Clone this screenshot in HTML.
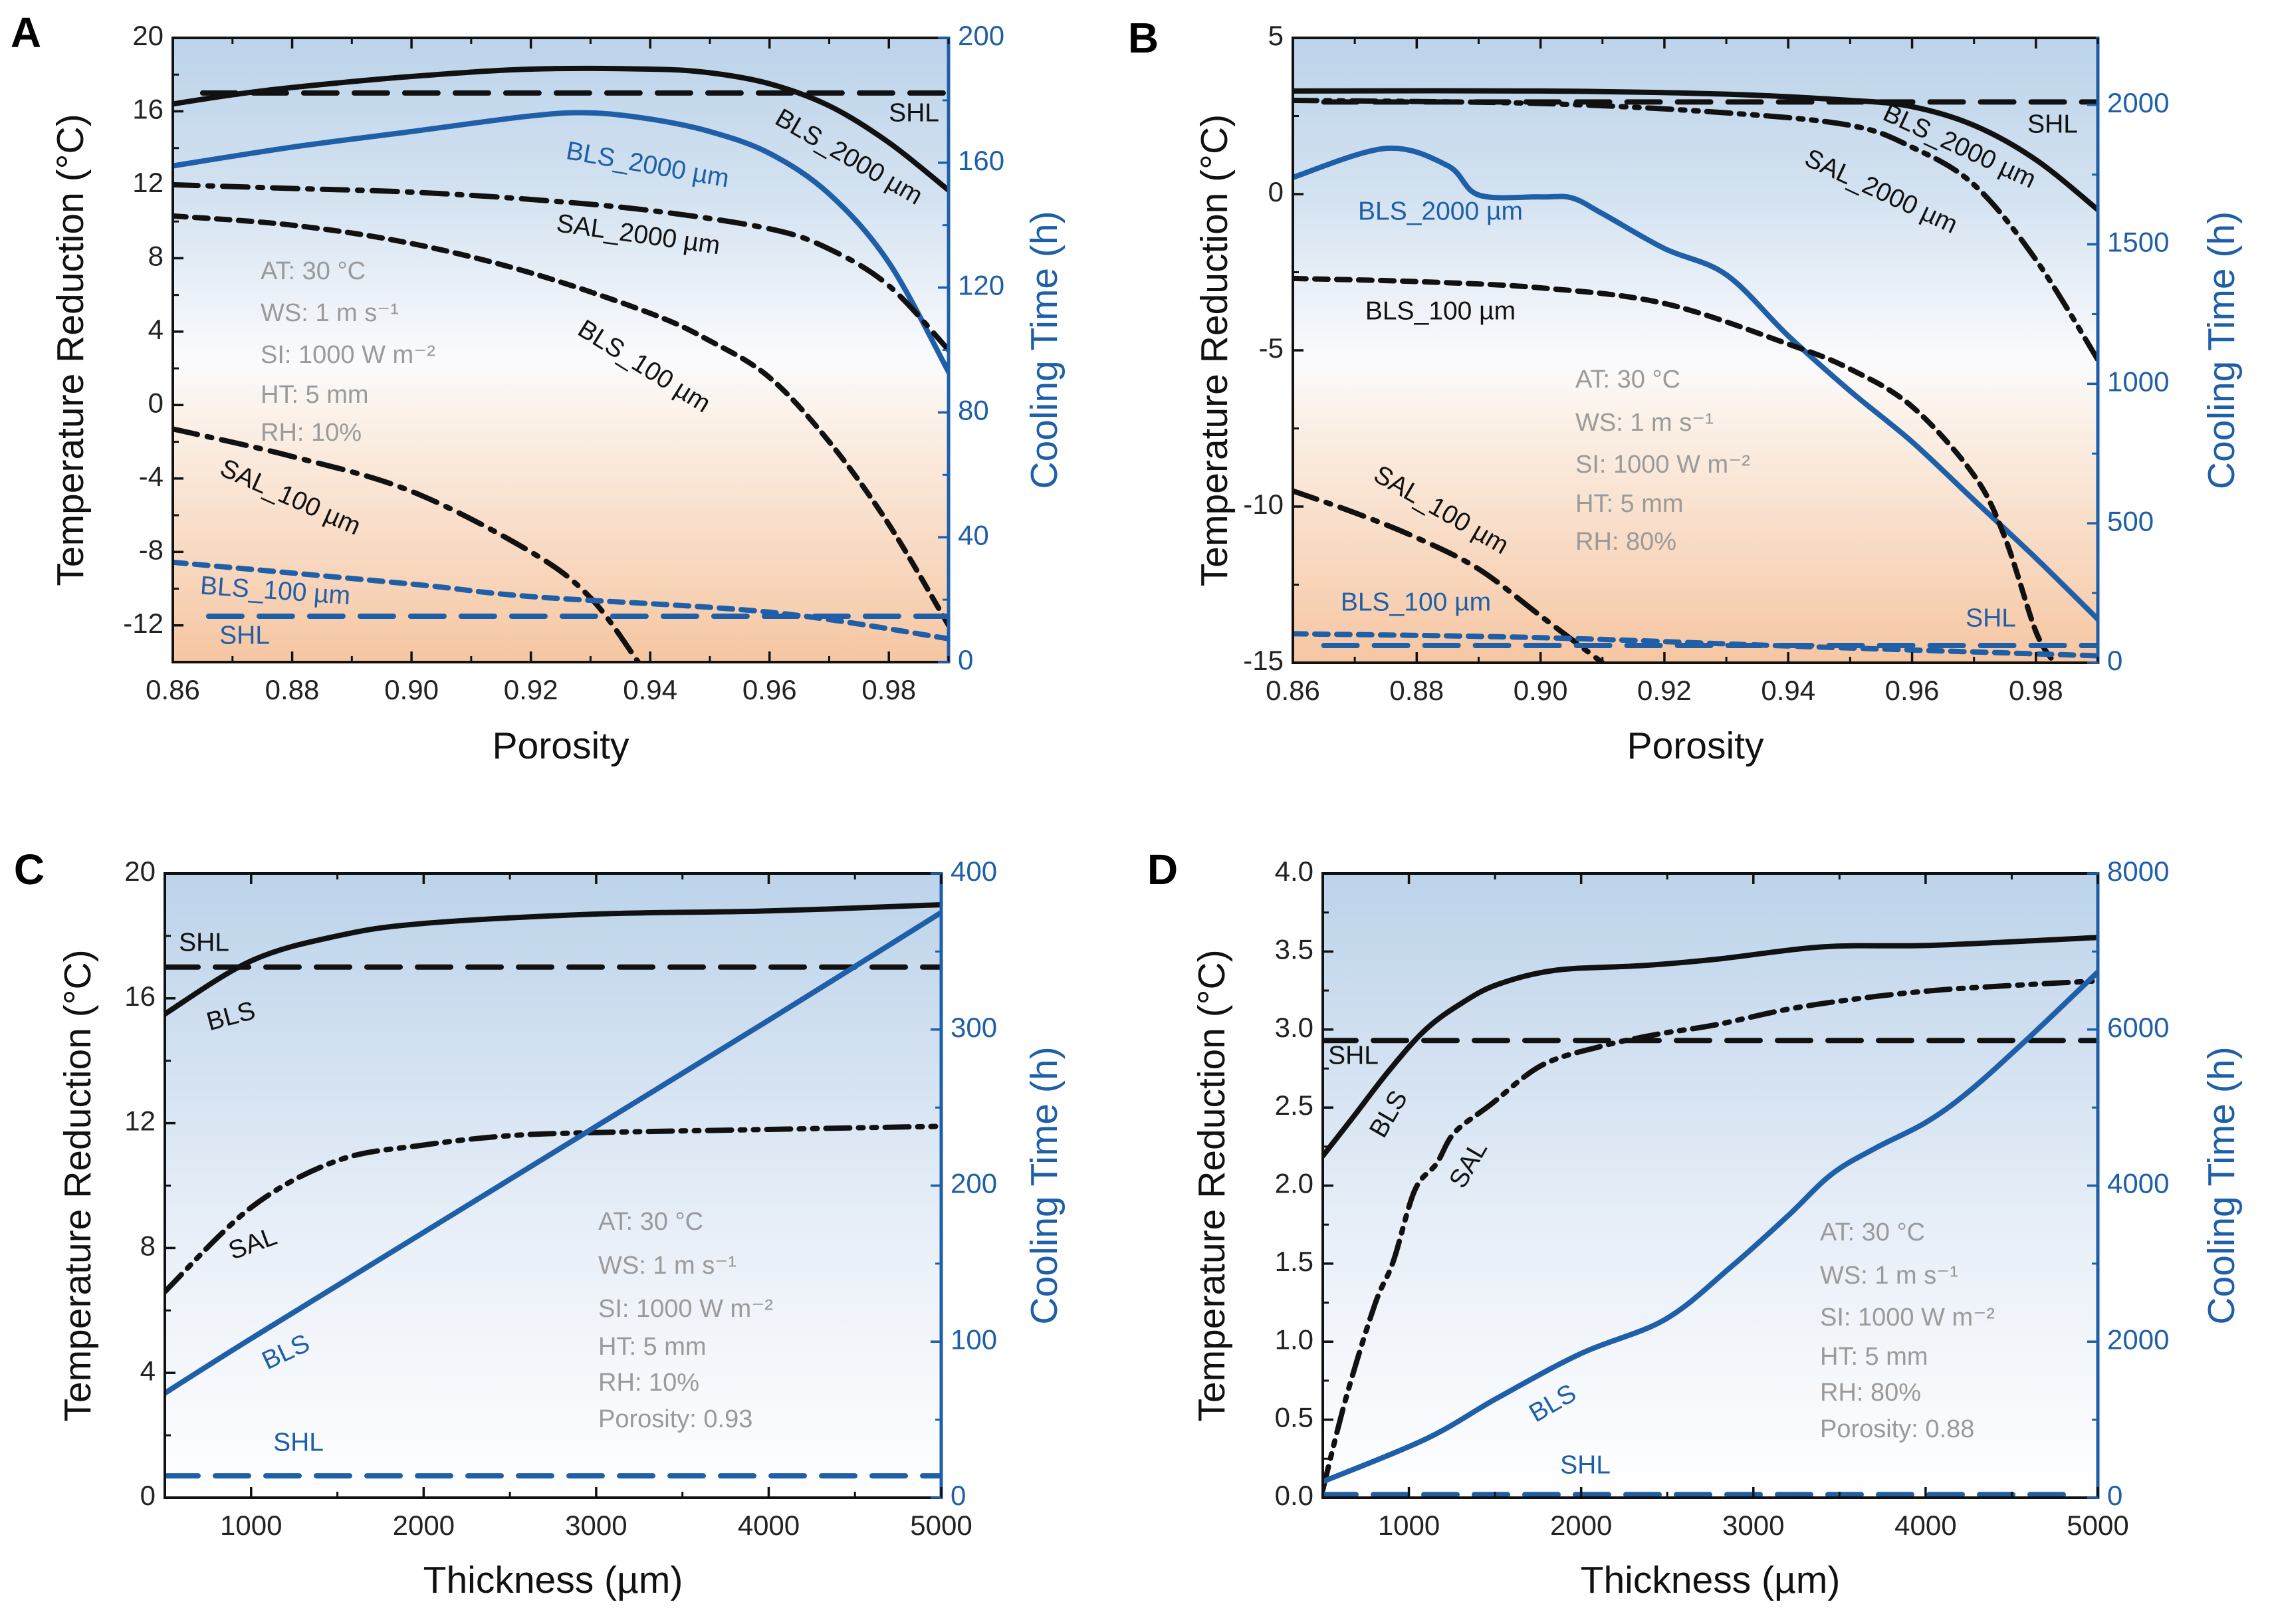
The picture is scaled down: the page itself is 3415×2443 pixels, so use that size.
<!DOCTYPE html>
<html><head><meta charset="utf-8">
<style>
html,body{margin:0;padding:0;background:#fff;}
svg{display:block;font-family:"Liberation Sans",Arial,sans-serif;}
</style></head>
<body>
<svg id="fig" width="3415" height="2443" viewBox="0 0 3415 2443" xmlns="http://www.w3.org/2000/svg">
<defs>
<linearGradient id="gAB" x1="0" y1="0" x2="0" y2="1">
<stop offset="0" stop-color="#bcd3ea"/><stop offset="0.25" stop-color="#d3e2f0"/><stop offset="0.52" stop-color="#fbfbfd"/><stop offset="0.6" stop-color="#fbf2ea"/><stop offset="1" stop-color="#f6c6a2"/>
</linearGradient>
<linearGradient id="gCD" x1="0" y1="0" x2="0" y2="1">
<stop offset="0" stop-color="#bcd3ea"/><stop offset="0.6" stop-color="#eaf0f8"/><stop offset="1" stop-color="#ffffff"/>
</linearGradient>
</defs>
</svg>
<script>
// ===== Panel A data (Porosity) =====
const aX_bls2000=[0.86,0.87,0.88,0.90,0.92,0.94,0.95,0.96,0.97,0.98,0.99];
const aY_bls2000=[16.4,16.9,17.3,17.9,18.3,18.3,18.1,17.5,16.3,14.3,11.7];
const aX_shl=[0.865,0.99]; const aY_shl=[17,17];
const aX_bls2000t=[0.86,0.88,0.90,0.92,0.93,0.94,0.95,0.96,0.97,0.98,0.99];
const aY_bls2000t=[159,165,170,175,176,174,170,163,150,128,93];
const aX_sal2000=[0.86,0.88,0.90,0.92,0.94,0.96,0.97,0.98,0.99];
const aY_sal2000=[12,11.8,11.6,11.2,10.6,9.6,8.5,6.5,3];
const aX_bls100=[0.86,0.88,0.90,0.92,0.94,0.95,0.96,0.97,0.98,0.99];
const aY_bls100=[10.3,9.8,8.8,7.2,5,3.5,1.5,-2,-6.5,-12];
const aX_sal100=[0.86,0.88,0.90,0.92,0.93,0.938];
const aY_sal100=[-1.3,-2.8,-4.7,-8,-10.5,-14];
const aX_bls100t=[0.86,0.90,0.92,0.96,0.99];
const aY_bls100t=[32,25,21,16,7.5];
const aX_shlt=[0.866,0.99]; const aY_shlt=[14.7,14.7];
// ===== Panel B data =====
const bX_bls2000=[0.86,0.90,0.93,0.95,0.96,0.97,0.98,0.99];
const bY_bls2000=[3.3,3.3,3.2,3.0,2.8,2.2,1.1,-0.5];
const bX_shl=[0.865,0.99]; const bY_shl=[2.95,2.95];
const bX_sal2000=[0.86,0.90,0.93,0.95,0.96,0.97,0.98,0.99];
const bY_sal2000=[3.0,2.9,2.6,2.2,1.5,0.3,-2.1,-5.3];
const bX_bls2000t=[0.86,0.875,0.885,0.89,0.90,0.905,0.91,0.92,0.93,0.94,0.95,0.96,0.97,0.98,0.99];
const bY_bls2000t=[1740,1844,1782,1677,1670,1667,1610,1485,1391,1172,974,792,583,375,156];
const bX_bls100=[0.86,0.88,0.90,0.92,0.94,0.95,0.96,0.97,0.975,0.98,0.983];
const bY_bls100=[-2.7,-2.8,-3.0,-3.5,-4.8,-5.6,-6.8,-9,-11,-14,-15];
const bX_sal100=[0.86,0.87,0.88,0.89,0.90,0.91];
const bY_sal100=[-9.5,-10.2,-11,-12,-13.5,-15];
const bX_bls100t=[0.86,0.90,0.94,0.99]; const bY_bls100t=[104,90,60,25];
const bX_shlt=[0.865,0.99]; const bY_shlt=[62,62];
// ===== Panel C data (Thickness) =====
const cX_bls=[500,1000,1500,2000,3000,4000,5000]; const cY_bls=[15.5,17.2,18,18.4,18.7,18.8,19];
const cX_shl=[500,5000]; const cY_shl=[17,17];
const cX_sal=[500,1000,1500,2000,2500,3000,4000,5000]; const cY_sal=[6.6,9.3,10.8,11.3,11.6,11.7,11.8,11.9];
const cX_blst=[500,1000,2000,3000,4000,5000]; const cY_blst=[67,102,170,238,306,375];
const cX_shlt=[500,5000]; const cY_shlt=[14,14];
// ===== Panel D data =====
const dX_bls=[500,677,887,1097,1308,1518,1854,2359,2780,3410,4042,5000];
const dY_bls=[2.19,2.44,2.74,3.0,3.17,3.29,3.38,3.41,3.45,3.53,3.54,3.59];
const dX_shl=[500,5000]; const dY_shl=[2.93,2.93];
const dX_sal=[500,635,803,908,1034,1160,1265,1476,1770,2107,2443,2780,3200,3621,4042,4462,4967];
const dY_sal=[0.05,0.64,1.24,1.51,1.97,2.14,2.34,2.52,2.77,2.89,2.97,3.03,3.13,3.2,3.25,3.28,3.31];
const dX_blst=[500,1097,1518,2000,2485,2864,3200,3453,3705,4000,4252,4588,5000];
const dY_blst=[206,751,1283,1849,2281,2946,3611,4143,4476,4808,5207,5872,6737];
const dX_shlt=[500,4800]; const dY_shlt=[40,40];
// ticks
const aXTicks=[0.86,0.88,0.90,0.92,0.94,0.96,0.98];
const aLTicks=[-12,-8,-4,0,4,8,12,16,20];
const aRTicks=[0,40,80,120,160,200];
const bLTicks=[-15,-10,-5,0,5];
const bRTicks=[0,500,1000,1500,2000];
const cXTicks=[1000,2000,3000,4000,5000];
const cLTicks=[0,4,8,12,16,20];
const cRTicks=[0,100,200,300,400];
const dLTicks=[0,0.5,1.0,1.5,2.0,2.5,3.0,3.5,4.0];
const dRTicks=[0,2000,4000,6000,8000];

const NS="http://www.w3.org/2000/svg";
const svg=document.getElementById('fig');
const BLUE="#1f5fa8", BLK="#111", GRAY="#9a9a9a";
function el(tag,attrs,parent){const e=document.createElementNS(NS,tag);for(const k in attrs)e.setAttribute(k,attrs[k]);(parent||svg).appendChild(e);return e;}
function txt(s,x,y,size,fill,anchor,rot,parent,name,weight){
  const t=el('text',{x:x,y:y,'font-size':size,fill:fill,'text-anchor':anchor||'middle','dominant-baseline':'middle'},parent);
  if(weight)t.setAttribute('font-weight',weight);
  if(rot)t.setAttribute('transform','rotate('+rot+' '+x+' '+y+')');
  t.textContent=s;
  
  
  return t;}
function smoothPath(pts){
  if(pts.length<3)return 'M'+pts.map(p=>p[0].toFixed(1)+','+p[1].toFixed(1)).join(' L');
  let d='M'+pts[0][0].toFixed(1)+','+pts[0][1].toFixed(1);
  for(let i=0;i<pts.length-1;i++){
    const p0=pts[i-1]||pts[i],p1=pts[i],p2=pts[i+1],p3=pts[i+2]||p2;
    const c1=[p1[0]+(p2[0]-p0[0])/6,p1[1]+(p2[1]-p0[1])/6];
    const c2=[p2[0]-(p3[0]-p1[0])/6,p2[1]-(p3[1]-p1[1])/6];
    d+=' C'+c1[0].toFixed(1)+','+c1[1].toFixed(1)+' '+c2[0].toFixed(1)+','+c2[1].toFixed(1)+' '+p2[0].toFixed(1)+','+p2[1].toFixed(1);}
  return d;}
const DASH={solid:null,long:'50,26',short:'20,13',dd:'38,15,7,15',ddd:'36,13,7,13,7,13'};

function panel(cfg){
  const g=el('g',{});
  
  
  const {L,R,T,B}=cfg;
  const sx=v=>L+(v-cfg.xmin)/(cfg.xmax-cfg.xmin)*(R-L);
  const syl=v=>B-(v-cfg.lmin)/(cfg.lmax-cfg.lmin)*(B-T);
  const syr=v=>B-(v-cfg.rmin)/(cfg.rmax-cfg.rmin)*(B-T);
  const bg=el('rect',{x:L,y:T,width:R-L,height:B-T,fill:cfg.grad},g);
  
  
  const clip=el('clipPath',{id:'clip'+cfg.id},g);
  el('rect',{x:L,y:T,width:R-L,height:B-T},clip);
  const lg=el('g',{'clip-path':'url(#clip'+cfg.id+')'},g);
  cfg.series.forEach(s=>{
    const sy=s.axis==='r'?syr:syl;
    const pts=s.x.map((xv,i)=>[sx(xv),sy(s.y[i])]);
    const p=el('path',{d:smoothPath(pts),fill:'none',stroke:s.color,'stroke-width':8,'stroke-linecap':s.dash?'round':'butt','stroke-linejoin':'round'},lg);
    if(DASH[s.dash])p.setAttribute('stroke-dasharray',DASH[s.dash]);
    
    
  });
  const fl=el('path',{d:`M${R},${B} L${L},${B} L${L},${T} L${R},${T}`,fill:'none',stroke:BLK,'stroke-width':4},g);
  
  
  const fr=el('line',{x1:R,y1:T-2,x2:R,y2:B+2,stroke:BLUE,'stroke-width':5},g);
  
  
  cfg.xTicks.forEach(v=>{const x=sx(v);
    el('line',{x1:x,y1:B,x2:x,y2:B-16,stroke:BLK,'stroke-width':3.5},g);
    el('line',{x1:x,y1:T,x2:x,y2:T+16,stroke:BLK,'stroke-width':3.5},g);
    txt(cfg.xFmt(v),x,B+45,42,'#222','middle',0,g,'x-tick-label');});
  cfg.xMinor.forEach(v=>{const x=sx(v);
    el('line',{x1:x,y1:B,x2:x,y2:B-9,stroke:BLK,'stroke-width':3},g);
    el('line',{x1:x,y1:T,x2:x,y2:T+9,stroke:BLK,'stroke-width':3},g);});
  cfg.lTicks.forEach(v=>{const y=syl(v);
    el('line',{x1:L,y1:y,x2:L+16,y2:y,stroke:BLK,'stroke-width':3.5},g);
    txt(cfg.lFmt(v),L-14,y,42,'#222','end',0,g,'left-tick-label');});
  cfg.lMinor.forEach(v=>{const y=syl(v);el('line',{x1:L,y1:y,x2:L+9,y2:y,stroke:BLK,'stroke-width':3},g);});
  cfg.rTicks.forEach(v=>{const y=syr(v);
    el('line',{x1:R,y1:y,x2:R-16,y2:y,stroke:BLUE,'stroke-width':3.5},g);
    txt(String(v),R+14,y,42,BLUE,'start',0,g,'right-tick-label');});
  cfg.rMinor.forEach(v=>{const y=syr(v);el('line',{x1:R,y1:y,x2:R-9,y2:y,stroke:BLUE,'stroke-width':3},g);});
  const mid=(T+B)/2;
  txt('Temperature Reduction (°C)',cfg.ltx,mid,57,'#111','middle',-90,g,'left-axis-title');
  txt('Cooling Time (h)',cfg.rtx,mid,57,BLUE,'middle',-90,g,'right-axis-title');
  txt(cfg.xTitle,(L+R)/2,cfg.xty,57,'#111','middle',0,g,'x-axis-title');
  txt(cfg.letter,cfg.lx,cfg.ly,64,'#000','middle',0,g,'panel-letter','bold');
  cfg.labels.forEach(l=>txt(l[0],l[1],l[2],39,l[3],'middle',l[4],g,'series-label'));
  cfg.cond.forEach((c,i)=>{txt(c,cfg.cx,cfg.cy[i],38,GRAY,'start',0,g,'condition-text');});
}
const f2=v=>v.toFixed(2);
const rng=(a,b,s)=>{const r=[];for(let v=a;v<=b+1e-9;v+=s)r.push(+v.toFixed(4));return r;};
const condAB=(rh)=>['AT: 30 °C','WS: 1 m s⁻¹','SI: 1000 W m⁻²','HT: 5 mm','RH: '+rh];

panel({id:'A',name:'panel-a',L:260,R:1427,T:57,B:996,xmin:0.86,xmax:0.99,lmin:-14,lmax:20,rmin:0,rmax:200,grad:'url(#gAB)',
 xTicks:aXTicks,xMinor:rng(0.87,0.99,0.02),xFmt:f2,lTicks:aLTicks,lMinor:rng(-14,18,4),lFmt:v=>String(v),rTicks:aRTicks,rMinor:rng(20,180,40),
 ltx:110,rtx:1575,xTitle:'Porosity',xty:1126,letter:'A',lx:39,ly:54,
 series:[
  {name:'bls-2000-temp',x:aX_bls2000,y:aY_bls2000,color:BLK,dash:'solid'},
  {name:'shl-temp',x:aX_shl,y:aY_shl,color:BLK,dash:'long'},
  {name:'bls-2000-time',x:aX_bls2000t,y:aY_bls2000t,color:BLUE,dash:'solid',axis:'r'},
  {name:'sal-2000-temp',x:aX_sal2000,y:aY_sal2000,color:BLK,dash:'dd'},
  {name:'bls-100-temp',x:aX_bls100,y:aY_bls100,color:BLK,dash:'short'},
  {name:'sal-100-temp',x:aX_sal100,y:aY_sal100,color:BLK,dash:'dd'},
  {name:'bls-100-time',x:aX_bls100t,y:aY_bls100t,color:BLUE,dash:'short',axis:'r'},
  {name:'shl-time',x:aX_shlt,y:aY_shlt,color:BLUE,dash:'long',axis:'r'}],
 labels:[['SHL',1375,172,BLK,0],['BLS_2000 µm',1276,238,BLK,30],['BLS_2000 µm',974,250,BLUE,10],['SAL_2000 µm',960,355,BLK,8],
  ['BLS_100 µm',968,553,BLK,32],['SAL_100 µm',436,750,BLK,24],['BLS_100 µm',414,891,BLUE,4],['SHL',368,958,BLUE,0]],
 cond:condAB('10%'),cx:392,cy:[410,473,536,596,653]});

panel({id:'B',name:'panel-b',L:1945,R:3156,T:57,B:997,xmin:0.86,xmax:0.99,lmin:-15,lmax:5,rmin:0,rmax:2240,grad:'url(#gAB)',
 xTicks:aXTicks,xMinor:rng(0.87,0.99,0.02),xFmt:f2,lTicks:bLTicks,lMinor:rng(-12.5,2.5,5),lFmt:v=>String(v),rTicks:bRTicks,rMinor:rng(250,2000,500),
 ltx:1831,rtx:3346,xTitle:'Porosity',xty:1126,letter:'B',lx:1720,ly:62,
 series:[
  {name:'bls-2000-temp',x:bX_bls2000,y:bY_bls2000,color:BLK,dash:'solid'},
  {name:'shl-temp',x:bX_shl,y:bY_shl,color:BLK,dash:'long'},
  {name:'sal-2000-temp',x:bX_sal2000,y:bY_sal2000,color:BLK,dash:'ddd'},
  {name:'bls-2000-time',x:bX_bls2000t,y:bY_bls2000t,color:BLUE,dash:'solid',axis:'r'},
  {name:'bls-100-temp',x:bX_bls100,y:bY_bls100,color:BLK,dash:'short'},
  {name:'sal-100-temp',x:bX_sal100,y:bY_sal100,color:BLK,dash:'dd'},
  {name:'bls-100-time',x:bX_bls100t,y:bY_bls100t,color:BLUE,dash:'short',axis:'r'},
  {name:'shl-time',x:bX_shlt,y:bY_shlt,color:BLUE,dash:'long',axis:'r'}],
 labels:[['SHL',3088,189,BLK,0],['BLS_2000 µm',2947,222,BLK,25],['SAL_2000 µm',2829,290,BLK,25],['BLS_2000 µm',2167,320,BLUE,0],
  ['BLS_100 µm',2167,470,BLK,0],['SAL_100 µm',2167,769,BLK,30],['BLS_100 µm',2130,908,BLUE,0],['SHL',2995,932,BLUE,0]],
 cond:condAB('80%'),cx:2370,cy:[573,638,701,760,817]});

panel({id:'C',name:'panel-c',L:248,R:1416,T:1314,B:2253,xmin:500,xmax:5000,lmin:0,lmax:20,rmin:0,rmax:400,grad:'url(#gCD)',
 xTicks:cXTicks,xMinor:rng(1500,4500,1000),xFmt:v=>String(v),lTicks:cLTicks,lMinor:rng(2,18,4),lFmt:v=>String(v),rTicks:cRTicks,rMinor:rng(50,350,100),
 ltx:121,rtx:1575,xTitle:'Thickness (µm)',xty:2381,letter:'C',lx:44,ly:1313,
 series:[
  {name:'bls-temp',x:cX_bls,y:cY_bls,color:BLK,dash:'solid'},
  {name:'shl-temp',x:cX_shl,y:cY_shl,color:BLK,dash:'long'},
  {name:'sal-temp',x:cX_sal,y:cY_sal,color:BLK,dash:'ddd'},
  {name:'bls-time',x:cX_blst,y:cY_blst,color:BLUE,dash:'solid',axis:'r'},
  {name:'shl-time',x:cX_shlt,y:cY_shlt,color:BLUE,dash:'long',axis:'r'}],
 labels:[['SHL',307,1420,BLK,0],['BLS',348,1531,BLK,-15],['SAL',381,1873,BLK,-20],['BLS',431,2036,BLUE,-25],['SHL',449,2172,BLUE,0]],
 cond:condAB('10%').concat(['Porosity: 0.93']),cx:900,cy:[1840,1906,1971,2028,2082,2137]});

panel({id:'D',name:'panel-d',L:1990,R:3156,T:1314,B:2253,xmin:500,xmax:5000,lmin:0,lmax:4,rmin:0,rmax:8000,grad:'url(#gCD)',
 xTicks:cXTicks,xMinor:rng(1500,4500,1000),xFmt:v=>String(v),lTicks:dLTicks,lMinor:rng(0.25,3.75,0.5),lFmt:v=>v.toFixed(1),rTicks:dRTicks,rMinor:rng(1000,7000,2000),
 ltx:1827,rtx:3346,xTitle:'Thickness (µm)',xty:2381,letter:'D',lx:1749,ly:1313,
 series:[
  {name:'bls-temp',x:dX_bls,y:dY_bls,color:BLK,dash:'solid'},
  {name:'shl-temp',x:dX_shl,y:dY_shl,color:BLK,dash:'long'},
  {name:'sal-temp',x:dX_sal,y:dY_sal,color:BLK,dash:'ddd'},
  {name:'bls-time',x:dX_blst,y:dY_blst,color:BLUE,dash:'solid',axis:'r'},
  {name:'shl-time',x:dX_shlt,y:dY_shlt,color:BLUE,dash:'long',axis:'r'}],
 labels:[['SHL',2036,1590,BLK,0],['BLS',2091,1677,BLK,-60],['SAL',2211,1753,BLK,-60],['BLS',2337,2113,BLUE,-30],['SHL',2385,2206,BLUE,0]],
 cond:condAB('80%').concat(['Porosity: 0.88']),cx:2738,cy:[1856,1921,1984,2043,2097,2152]});
</script>
</body></html>
